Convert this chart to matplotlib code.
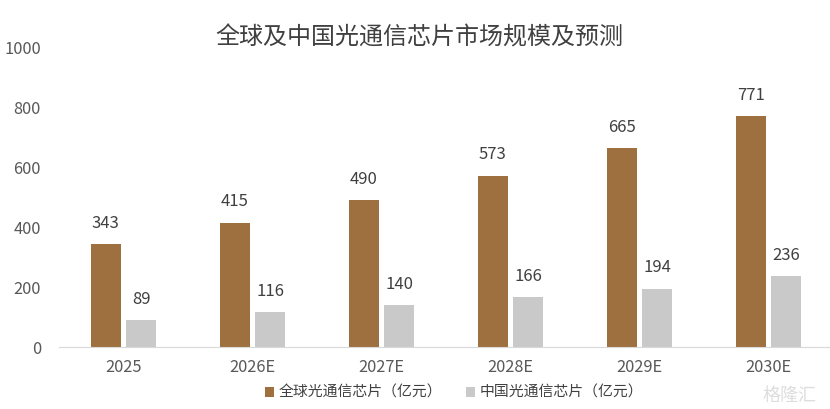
import matplotlib.pyplot as plt
import numpy as np

plt.rcParams['font.family'] = ['Noto Sans CJK SC', 'DejaVu Sans']

years = ['2025', '2026E', '2027E', '2028E', '2029E', '2030E']
global_vals = [343, 415, 490, 573, 665, 771]
china_vals = [89, 116, 140, 166, 194, 236]
names = ['全球光通信芯片（亿元）', '中国光通信芯片（亿元）']

W, H = 830, 409
fig = plt.figure(figsize=(W / 100, H / 100), dpi=100)
ax = fig.add_axes([59 / W, (H - 347) / H, (W - 59) / W, (347 - 48) / H])

x = np.arange(len(years))
w = 0.229
off = 0.137
b1 = ax.bar(x - off, global_vals, w, color='#9E7040', label=names[0])
b2 = ax.bar(x + off, china_vals, w, color='#C9C9C9', label=names[1])

for bars in (b1, b2):
    for r in bars:
        ax.annotate(str(int(r.get_height())), (r.get_x() + r.get_width() / 2, r.get_height()),
                    xytext=(0, 9), textcoords='offset points', ha='center', va='bottom',
                    fontsize=12, color='#404040')

ax.set_xlim(-0.5, 5.5 - 3 / 129)
ax.set_ylim(0, 1000)
ax.set_yticks(range(0, 1001, 200))
ax.set_xticks(x)
ax.set_xticklabels(years)
ax.tick_params(axis='both', length=0, labelsize=11.8, labelcolor='#595959')
ax.tick_params(axis='y', pad=13)
ax.tick_params(axis='x', pad=9)
for s in ['top', 'right', 'left']:
    ax.spines[s].set_visible(False)
ax.spines['bottom'].set_color('#D9D9D9')

fig.text(419 / W, (H - 38) / H, '全球及中国光通信芯片市场规模及预测', ha='center', va='center',
         fontsize=17.3, color='#404040')

fig.legend(loc='center', bbox_to_anchor=(454 / W, (H - 393) / H), ncol=2, frameon=False,
           fontsize=10.7, handlelength=0.6, handleheight=0.6, handletextpad=0.3,
           columnspacing=1.6, labelcolor='#404040')

fig.text(790 / W, (H - 396) / H, '格隆汇', ha='center', va='center', fontsize=13,
         color='#DDDDDD')

fig.savefig('out.png', dpi=100)
